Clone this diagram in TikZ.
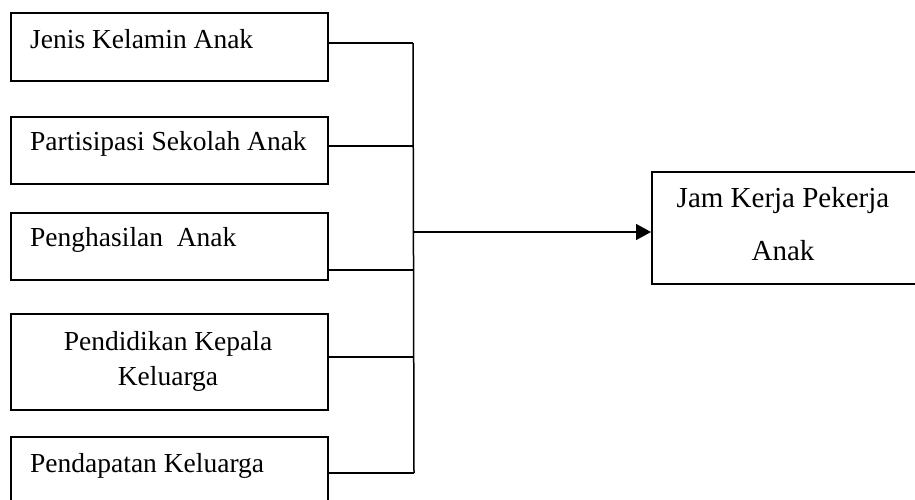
\documentclass[tikz,border=0pt]{standalone}
\usepackage{fontspec}
\setmainfont{Liberation Serif}
\usetikzlibrary{arrows.meta}
\begin{document}
\begin{tikzpicture}[x=1pt,y=-1pt,
  box/.style={draw,line width=1.5pt,rectangle,inner sep=0pt,anchor=north west},
  lbl/.style={inner sep=0pt,font=\fontsize{27.5}{33}\selectfont},
  rlbl/.style={inner sep=0pt,font=\fontsize{29}{35}\selectfont},
  conn/.style={line width=1.5pt}]
\useasboundingbox (0,0) rectangle (915,499);
\clip (0,0) rectangle (915,499);
% left boxes
\node[box,minimum width=317pt,minimum height=68pt] (b1) at (10,12) {};
\node[box,minimum width=317pt,minimum height=67pt] (b2) at (10,116) {};
\node[box,minimum width=317pt,minimum height=67pt] (b3) at (10,212) {};
\node[box,minimum width=317pt,minimum height=96pt] (b4) at (10,313) {};
\node[box,minimum width=317pt,minimum height=96pt] (b5) at (10,436) {};
\node[box,minimum width=290pt,minimum height=112pt] (rb) at (651,171) {};
% labels
\node[lbl,anchor=base west] (t1) at (30,48) {Jenis Kelamin Anak};
\node[lbl,anchor=base west] (t2) at (30,150) {Partisipasi Sekolah Anak};
\node[lbl,anchor=base west] (t3) at (30,246) {Penghasilan\ \ Anak};
\node[lbl,anchor=base] (t4a) at (168,350) {Pendidikan Kepala};
\node[lbl,anchor=base] (t4b) at (168,385) {Keluarga};
\node[lbl,anchor=base west] (t5) at (30,472) {Pendapatan Keluarga};
\node[rlbl,anchor=base] (r1) at (783,207) {Jam Kerja Pekerja};
\node[rlbl,anchor=base] (r2) at (783,260) {Anak};
% junctions
\coordinate (j1) at (413,43);
\coordinate (j2) at (413,146);
\coordinate (j3) at (413,270);
\coordinate (j4) at (413,357);
\coordinate (j5) at (414,473);
\coordinate (ja) at (413,232);
\draw[conn] (b1.east |- j1) -- (j1);
\draw[conn] (b2.east |- j2) -- (j2);
\draw[conn] (b3.east |- j3) -- (j3);
\draw[conn] (b4.east |- j4) -- (j4);
\draw[conn] (b5.east |- j5) -- (j5);
\draw[conn] (j1) -- (j5);
\draw[conn,-{Triangle[length=15pt,width=16pt]}] (ja) -- (rb.west |- ja);
\end{tikzpicture}
\end{document}
